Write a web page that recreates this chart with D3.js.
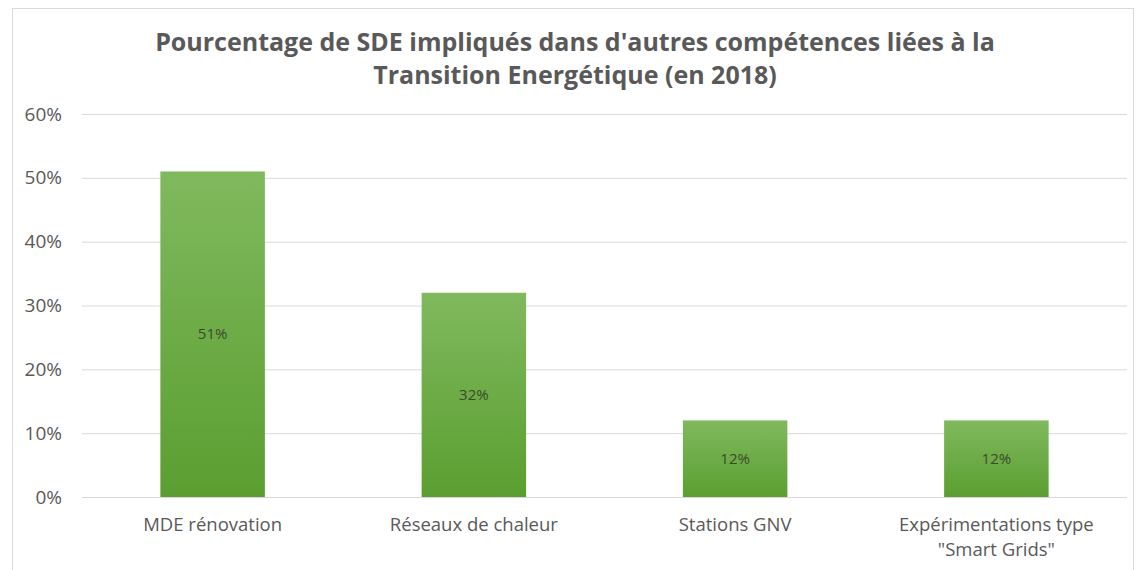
<!DOCTYPE html>
<html>
<head>
<meta charset="utf-8">
<script src="https://cdn.jsdelivr.net/npm/d3@7"></script>
<style>
  body { margin: 0; background: #fff; }
  text { font-family: "Open Sans", sans-serif; }
</style>
</head>
<body>
<script>
// Données du graphique
const categories = ["MDE rénovation", "Réseaux de chaleur", "Stations GNV", "Expérimentations type\n\"Smart Grids\""];
const valeurs = [0.51, 0.32, 0.12, 0.12];
const ticksY = [0, 0.1, 0.2, 0.3, 0.4, 0.5, 0.6];
const titre = ["Pourcentage de SDE impliqués dans d'autres compétences liées à la", "Transition Energétique (en 2018)"];

const [w, h] = [1138, 570];
const marge = { top: 114, right: 11, bottom: 73, left: 82 };

const svg = d3.select("body").append("svg")
    .attr("width", w)
    .attr("height", h);

// cadre
svg.append("rect")
    .attr("x", 12.5).attr("y", 8.5)
    .attr("width", w - 17).attr("height", h - 6)
    .attr("fill", "none")
    .attr("stroke", "#d9d9d9");

// dégradé des barres
const grad = svg.append("defs").append("linearGradient")
    .attr("id", "vert")
    .attr("x1", 0).attr("y1", 0).attr("x2", 0).attr("y2", 1);
grad.append("stop").attr("offset", "0%").attr("stop-color", "#80b95e");
grad.append("stop").attr("offset", "100%").attr("stop-color", "#5b9e30");

// Echelles
const xScale = d3.scaleBand()
    .domain(categories)
    .range([marge.left, w - marge.right])
    .paddingInner(0.6)
    .paddingOuter(0.3);

const yScale = d3.scaleLinear()
    .domain([0, 0.6])
    .range([h - marge.bottom, marge.top]);

// grille + axe Y
const yAxis = d3.axisLeft(yScale)
    .tickValues(ticksY)
    .tickFormat(d3.format(".0%"))
    .tickSize(-(w - marge.right - marge.left))
    .tickPadding(20);

const gy = svg.append("g")
    .attr("transform", "translate(" + marge.left + ",0)")
    .call(yAxis);
gy.select(".domain").remove();
gy.selectAll(".tick line").attr("stroke", "#d9d9d9");
gy.selectAll(".tick text")
    .attr("fill", "#595959")
    .style("font-size", "19px");

// barres
svg.selectAll("rect.bar")
    .data(valeurs)
    .enter()
    .append("rect")
    .attr("class", "bar")
    .attr("x", (d, i) => xScale(categories[i]))
    .attr("y", d => yScale(d))
    .attr("width", xScale.bandwidth())
    .attr("height", d => yScale(0) - yScale(d))
    .attr("fill", "url(#vert)");

// étiquettes de valeur
svg.selectAll("text.val")
    .data(valeurs)
    .enter()
    .append("text")
    .attr("class", "val")
    .attr("x", (d, i) => xScale(categories[i]) + xScale.bandwidth() / 2)
    .attr("y", d => (yScale(d) + yScale(0)) / 2 + 5)
    .attr("text-anchor", "middle")
    .attr("fill", "#3a4a2a")
    .style("font-size", "15px")
    .text(d => d3.format(".0%")(d));

// étiquettes X
const lab = svg.selectAll("text.cat")
    .data(categories)
    .enter()
    .append("text")
    .attr("class", "cat")
    .attr("text-anchor", "middle")
    .attr("fill", "#595959")
    .style("font-size", "18.5px");
lab.each(function (d) {
    const x = xScale(d) + xScale.bandwidth() / 2;
    d.split("\n").forEach((ligne, j) => {
        d3.select(this).append("tspan")
            .attr("x", x)
            .attr("y", 531 + j * 25)
            .text(ligne);
    });
});

// titre
svg.selectAll("text.titre")
    .data(titre)
    .enter()
    .append("text")
    .attr("class", "titre")
    .attr("x", 575)
    .attr("y", (d, i) => 51 + i * 33)
    .attr("text-anchor", "middle")
    .attr("fill", "#595959")
    .style("font-size", "25px")
    .style("font-weight", "bold")
    .text(d => d);
</script>
</body>
</html>
